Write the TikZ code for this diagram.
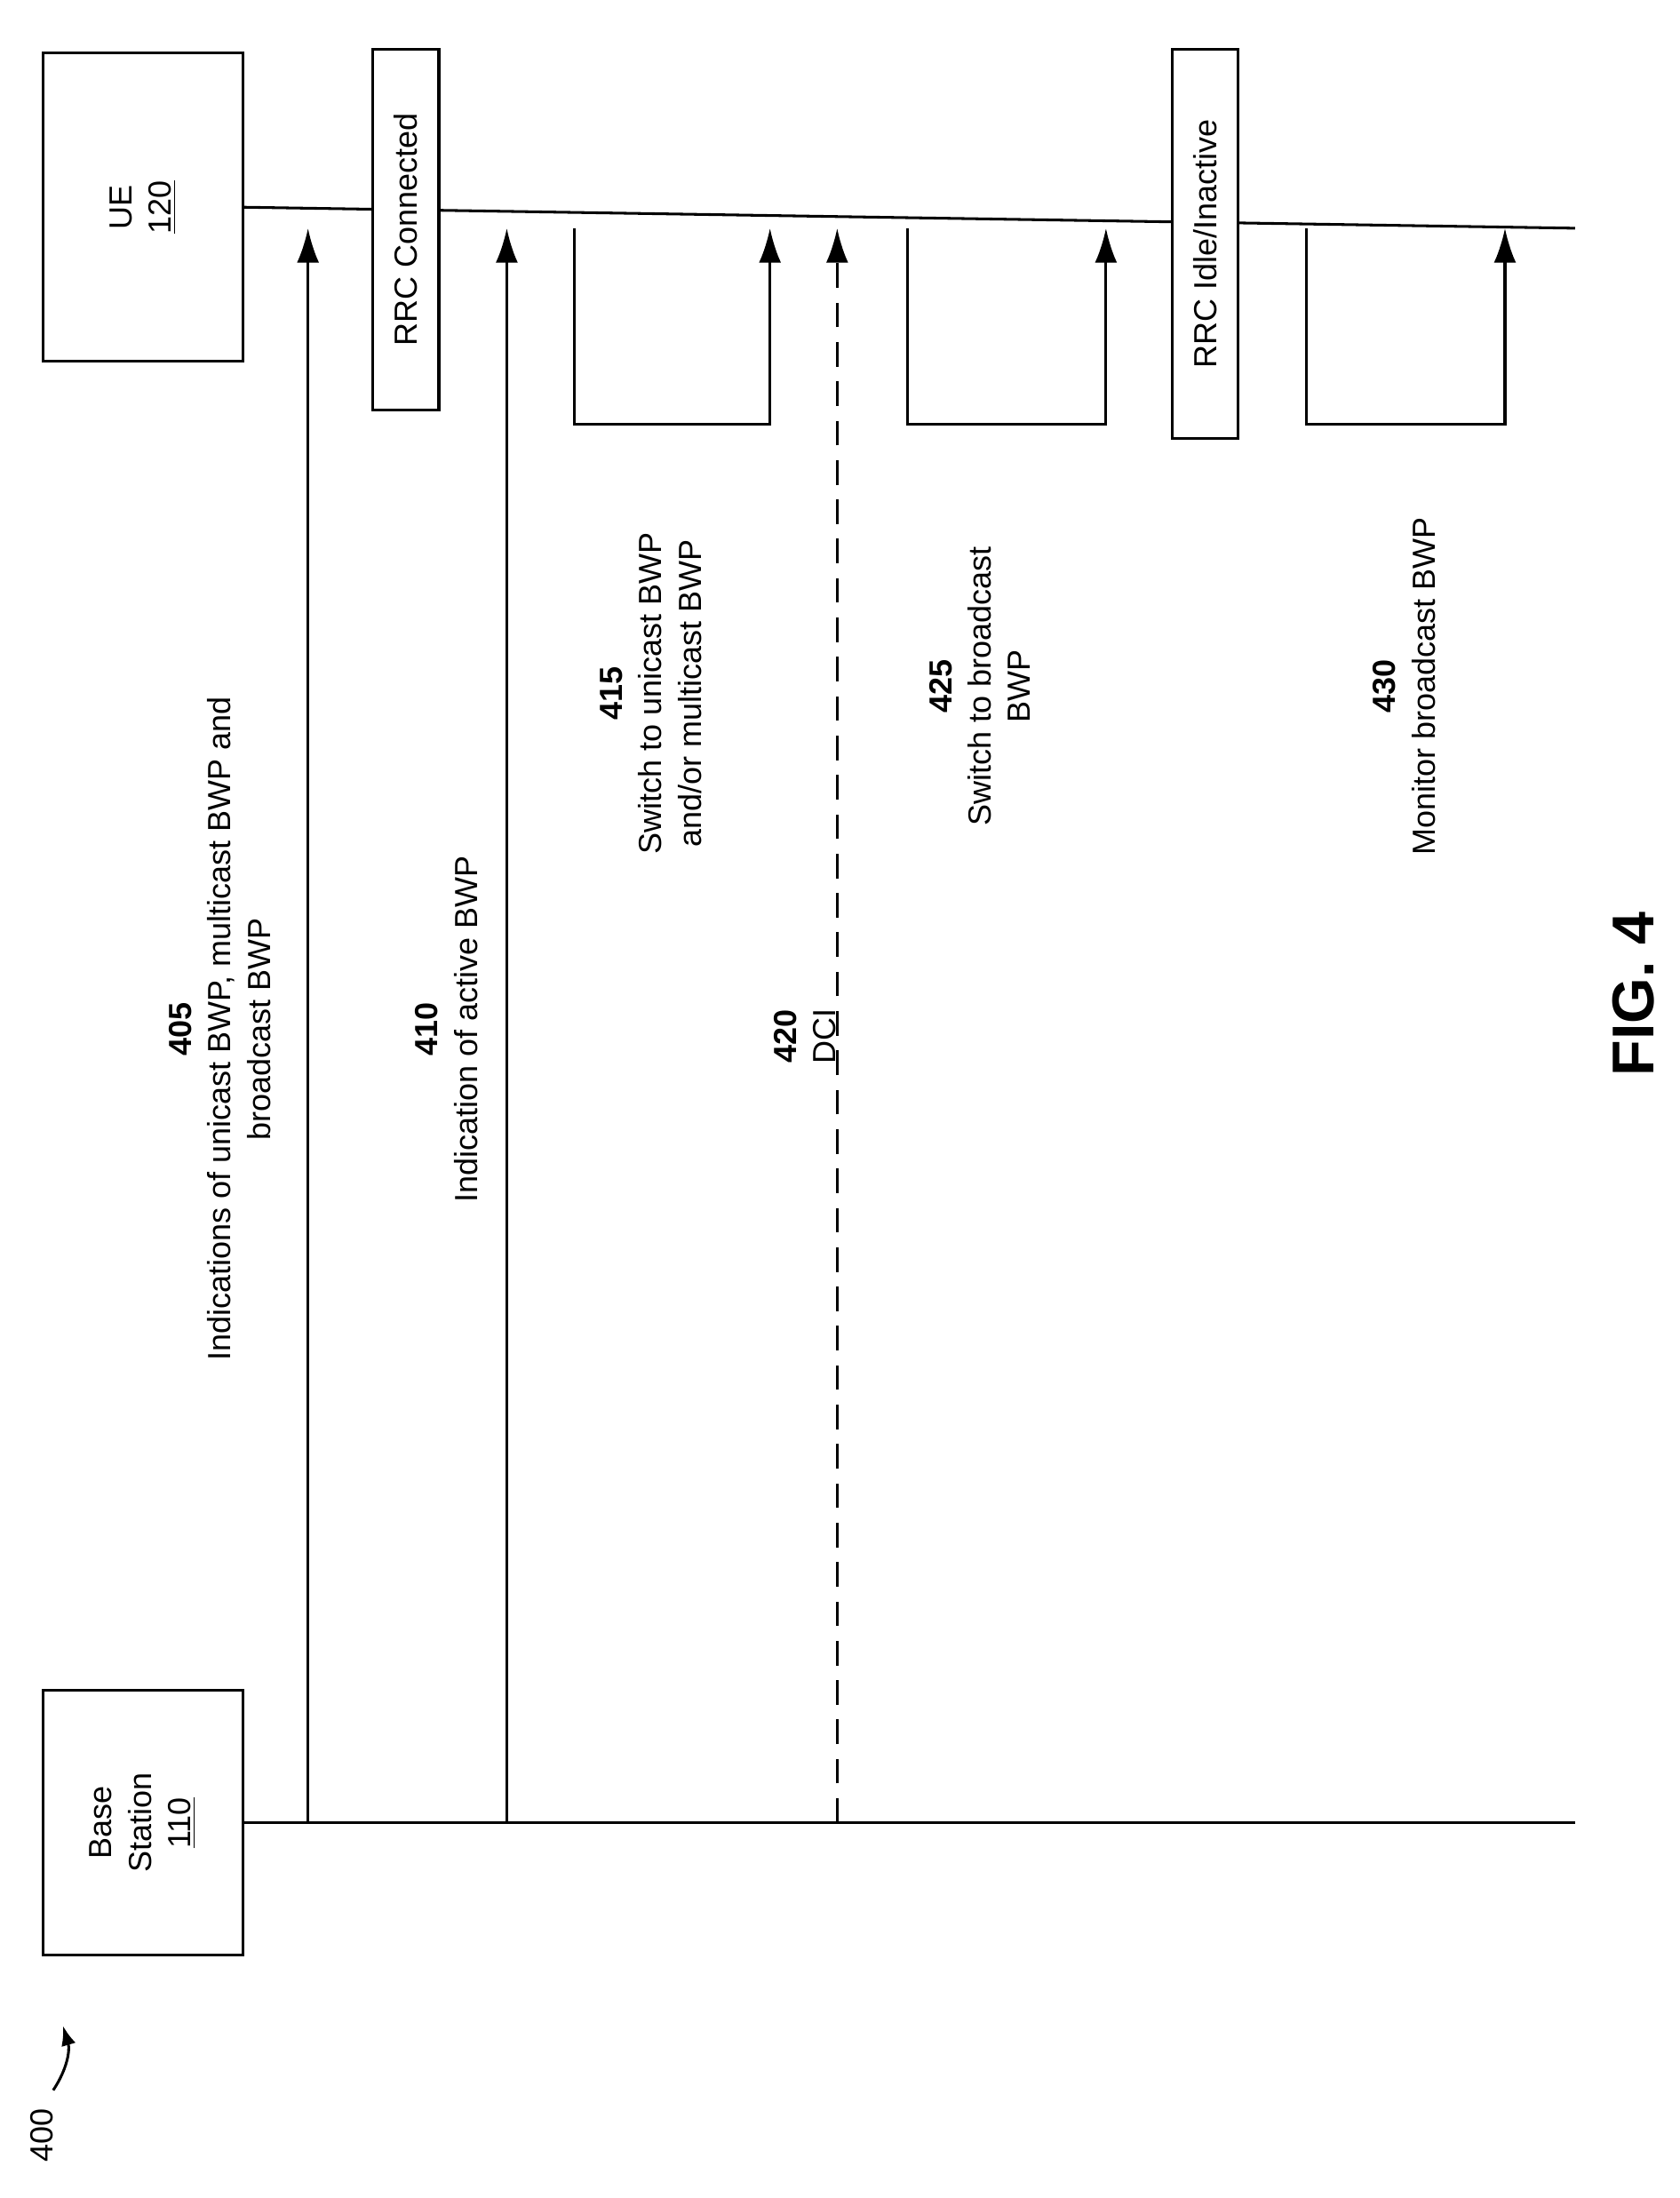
\documentclass[tikz,border=0pt]{standalone}
\usepackage{fontspec}
\setmainfont{Liberation Sans}
\usetikzlibrary{arrows.meta}
\tikzset{lbl/.style={rotate=90, align=center, font=\fontsize{13}{16}\selectfont},
  box/.style={draw, line width=1.1pt},
  msg/.style={line width=1.1pt, -{Latex[length=14pt, width=9pt]}}}
\begin{document}
\begin{tikzpicture}[x=0.02cm, y=-0.02cm, line width=1.1pt]
  \useasboundingbox (0,0) rectangle (1200,1570);
  \node[box, minimum width=143*0.02cm, minimum height=220*0.02cm] at (102,148) (ue) {};
  \node[lbl] at (ue.center) {UE\\\underline{120}};
  \node[box, minimum width=143*0.02cm, minimum height=189*0.02cm] at (102,1302) (bs) {};
  \node[lbl] at (bs.center) {Base\\Station\\\underline{110}};

  \coordinate (ueend) at (1125,163);
  \coordinate (bsend) at (1125,1302);
  \draw (ue.east) -- (ueend);
  \draw (bs.east) -- (bsend);

  \node[box, lbl, minimum width=258*0.02cm, minimum height=47*0.02cm, inner sep=0pt, fill=white]
    at (290,164) (conn) {RRC Connected};
  \node[box, lbl, minimum width=278*0.02cm, minimum height=47*0.02cm, inner sep=0pt, fill=white]
    at (861,174) (idle) {RRC Idle/Inactive};

  % messages
  \foreach \x/\n in {220/405, 362/410, 598/420} {
    \coordinate (bs\n) at (\x,1302);
    \coordinate (ue\n) at (\x,163);
  }
  \draw[msg] (bs405) -- (ue405);
  \draw[msg] (bs410) -- (ue410);
  \draw[msg, dash pattern=on 10pt off 6pt] (bs420) -- (ue420);

  % local steps
  \foreach \a/\b/\n in {410/550/415, 648/790/425, 933/1075/430} {
    \coordinate (s\n) at (\a,163);
    \coordinate (e\n) at (\b,163);
    \draw[msg] (s\n) -- ++(0,140) -| (e\n);
  }

  \node[lbl] at (157,735) (l405) {\textbf{405}\\Indications of unicast BWP, multicast BWP and\\broadcast BWP};
  \node[lbl] at (319,735) (l410) {\textbf{410}\\Indication of active BWP};
  \node[lbl] at (465,495) (l415) {\textbf{415}\\Switch to unicast BWP\\and/or multicast BWP};
  \node[lbl] at (575,740) (l420) {\textbf{420}\\DCI};
  \node[lbl] at (700,490) (l425) {\textbf{425}\\Switch to broadcast\\BWP};
  \node[lbl] at (1003,490) (l430) {\textbf{430}\\Monitor broadcast BWP};

  \node[rotate=90, font=\fontsize{24}{28}\selectfont\bfseries] at (1167,710) (fig) {FIG. 4};
  \node[lbl] at (30,1525) (num) {400};
  \draw[-{Latex[length=8pt]}] (38,1493) to[bend right=25] (45,1447);
\end{tikzpicture}
\end{document}
